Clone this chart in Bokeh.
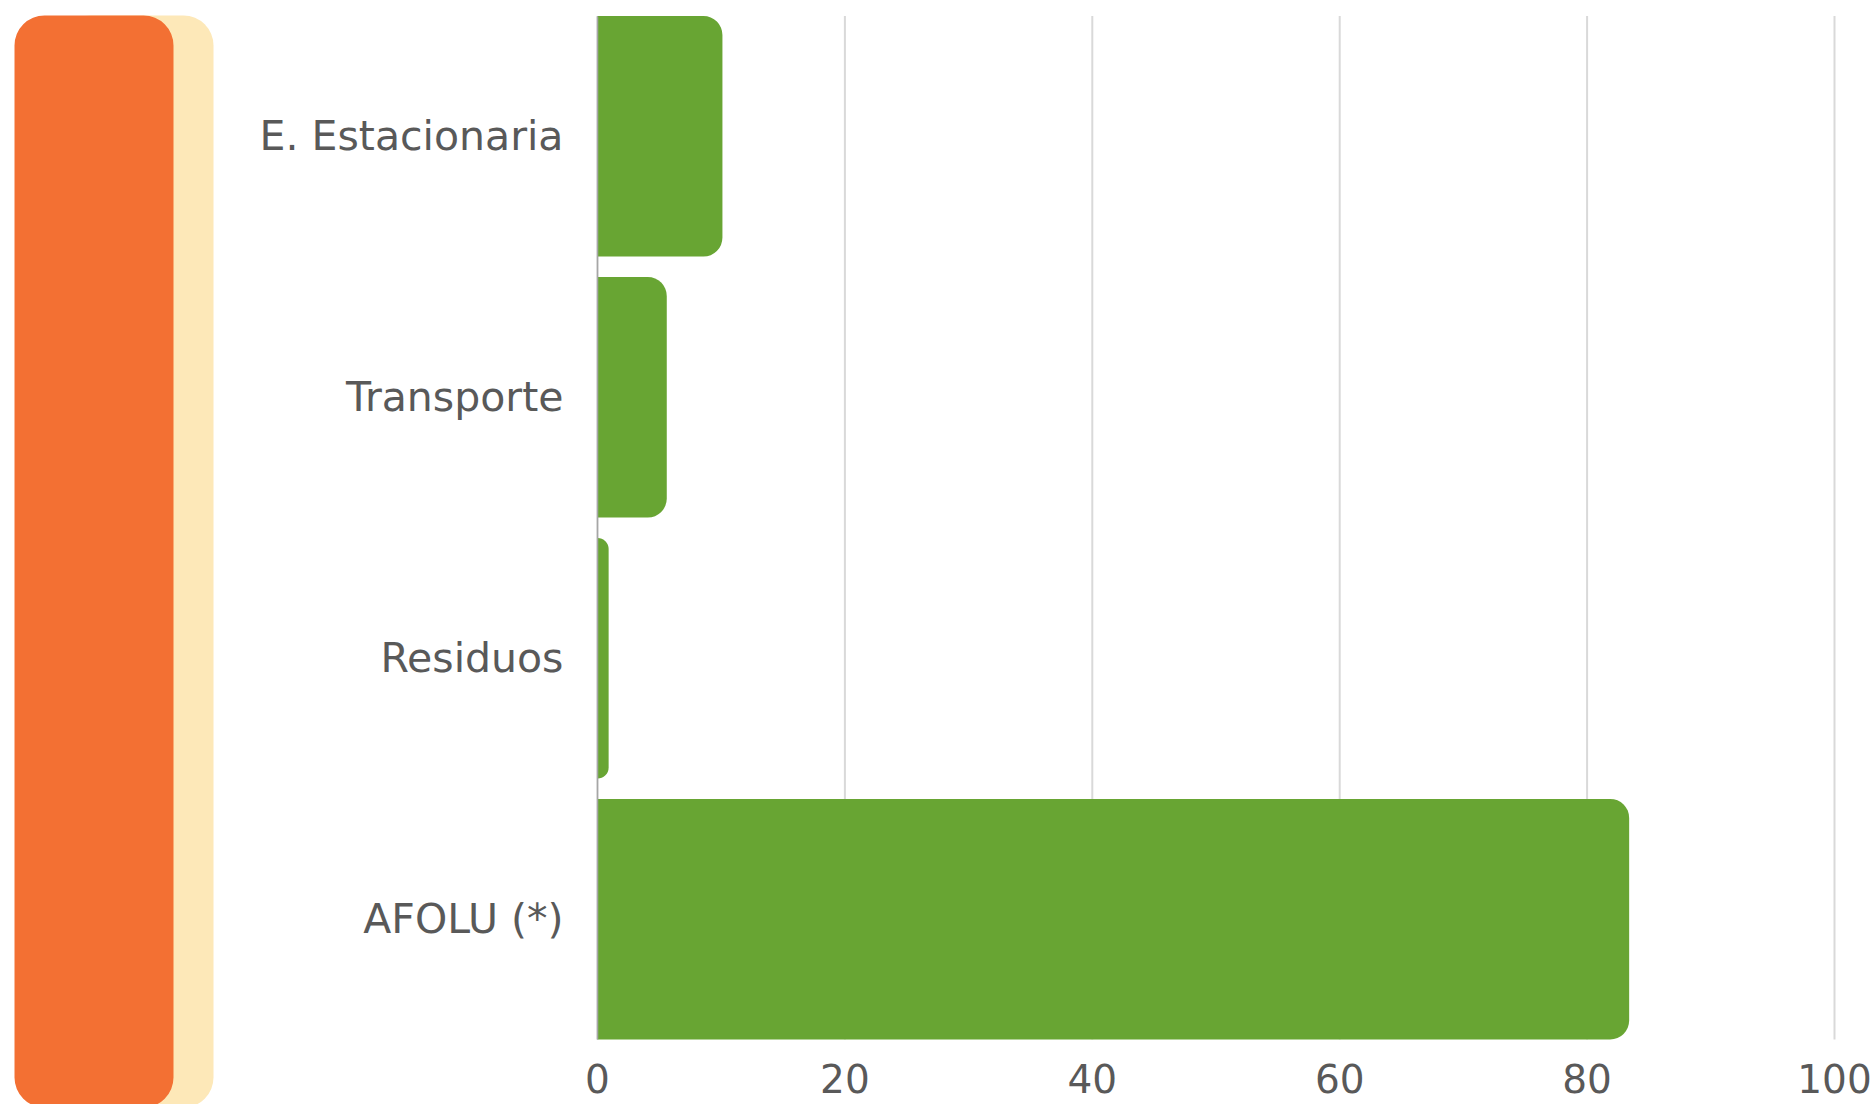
from bokeh.plotting import figure
from bokeh.models import Range1d, FixedTicker, LinearAxis
from bokeh.embed import file_html
from bokeh.resources import INLINE

# ---- data ----
categories = ["E. Estacionaria", "Transporte", "Residuos", "AFOLU (*)"]
values = [10.1, 5.6, 0.9, 83.4]
x_ticks = [0, 20, 40, 60, 80, 100]

GREEN = "#68A533"
ORANGE = "#F37033"
YELLOW = "#FDE8B8"
TEXT = "#595959"
GRID = "#D9D9D9"
FONT = "DejaVu Sans"

W, H = 1875, 1104
n = len(categories)
ypos = list(range(n))
bar_h = 0.922

# layout geometry (pixels): where value 0 / 100 and the bar block sit on the page
px0, px100 = 597.0, 1834.0
py_top, py_bot = 15.5, 1039.0
ppu_x = (px100 - px0) / 100.0
pitch = (py_bot - py_top) / (n - 1 + bar_h)
x_start = -px0 / ppu_x
x_end = 100 + (W - px100) / ppu_x
y_top = -bar_h / 2 - py_top / pitch
y_bot = -bar_h / 2 + (H - py_top) / pitch

p = figure(width=W, height=H, x_range=Range1d(x_start, x_end), y_range=Range1d(y_bot, y_top),
           min_border=0, x_axis_location=None, y_axis_location=None,
           toolbar_location=None, output_backend="svg")
p.outline_line_color = None
p.grid.visible = False
p.background_fill_color = "white"

# decorative panels on the left (pixel space)
p.extra_x_ranges = {"px": Range1d(0, W)}
p.extra_y_ranges = {"py": Range1d(0, H)}
p.quad(left=[60], right=[213], top=[H - 15], bottom=[H - 1107], fill_color=YELLOW,
       line_color=None, border_radius=30, x_range_name="px", y_range_name="py")
p.quad(left=[14], right=[173], top=[H - 15], bottom=[H - 1107], fill_color=ORANGE,
       line_color=None, border_radius=30, x_range_name="px", y_range_name="py")

# vertical grid lines limited to the bar block
p.segment(x0=x_ticks, x1=x_ticks, y0=[-bar_h / 2] * len(x_ticks),
          y1=[n - 1 + bar_h / 2] * len(x_ticks), line_color=GRID, line_width=2,
          level="underlay")

# bars
p.hbar(y=ypos, left=0, right=values, height=bar_h, fill_color=GREEN, line_color=None,
       border_radius=(0, 19, 19, 0))

# y axis (category labels) at value 0
yax = LinearAxis(fixed_location=0, ticker=FixedTicker(ticks=ypos),
                 bounds=(-bar_h / 2, n - 1 + bar_h / 2))
yax.major_label_overrides = {i: c for i, c in zip(ypos, categories)}
yax.axis_line_color = "#A6A6A6"
yax.axis_line_width = 1.5
yax.major_tick_line_color = None
yax.minor_tick_line_color = None
yax.major_label_text_font = FONT
yax.major_label_text_font_size = "41px"
yax.major_label_text_color = TEXT
yax.major_label_standoff = 28
p.add_layout(yax, "left")

# x axis (value labels) under the bar block
xax = LinearAxis(fixed_location=n - 1 + bar_h / 2, ticker=FixedTicker(ticks=x_ticks),
                 bounds=(0, 100))
xax.axis_line_color = None
xax.major_tick_line_color = None
xax.minor_tick_line_color = None
xax.major_label_text_font = FONT
xax.major_label_text_font_size = "39px"
xax.major_label_text_color = TEXT
xax.major_label_standoff = 18
p.add_layout(xax, "below")

open("out.html", "w").write(file_html(p, INLINE))
